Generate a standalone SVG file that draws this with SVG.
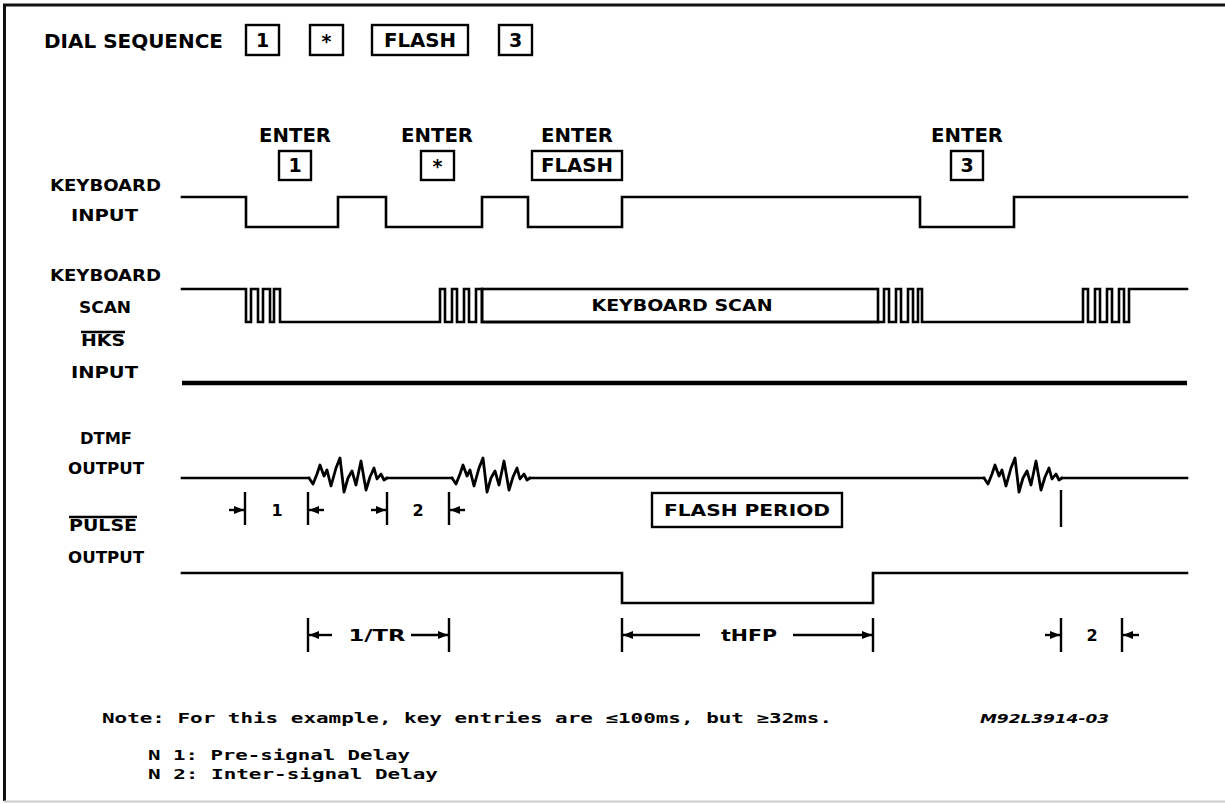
<svg xmlns="http://www.w3.org/2000/svg" width="1225" height="804" viewBox="0 0 1225 804">
<style>
.bg{fill:#fff}
.frame{stroke:#111;stroke-width:3;fill:none}
.frame2{stroke:#ccc;stroke-width:2;fill:none}
.sig{stroke:#000;stroke-width:2.6;fill:none;stroke-linejoin:miter;stroke-linecap:square}
.wave{stroke:#000;stroke-width:2.8;fill:none;stroke-linejoin:round;stroke-linecap:round}
.thick{stroke:#000;stroke-width:4.5;fill:none}
.box{stroke:#000;stroke-width:2.4;fill:#fff}
.dim{stroke:#000;stroke-width:2.4;fill:none}
.lbl{font-family:'DejaVu Sans',sans-serif;font-weight:bold;font-size:16px;fill:#000}
.big{font-family:'DejaVu Sans',sans-serif;font-weight:bold;font-size:19px;fill:#000}
.mid{text-anchor:middle}
.note{font-family:'DejaVu Sans Mono',monospace;font-weight:bold;font-size:14px;fill:#000}
.code{font-family:'DejaVu Sans',sans-serif;font-weight:bold;font-style:italic;font-size:12px;fill:#000}
</style>
<defs>
<marker id="ah" viewBox="0 0 10 8" refX="10" refY="4" markerWidth="10" markerHeight="8" markerUnits="userSpaceOnUse" orient="auto">
<path d="M0,0 L10,4 L0,8 Z" fill="#000"/>
</marker>
<path id="burst" d="M0,0 L4,6 L8,-4 L11,-13 L15,-2 L18,-8 L22,8 L27,-10 L31,-20 L35,14 L39,0 L43,-7 L47,7 L52,-17 L57,12 L61,-1 L65,-10 L68,1 L72,-4 L75,2 L78,0"/>
</defs>
<rect class="bg" x="0" y="0" width="1225" height="804"/>
<g id="frame">
<path class="frame" d="M4.5,801 V5 H1225"/>
<path class="frame2" d="M4,801.5 H1225"/>
</g>

<g id="dial-sequence">
<text class="big" x="44" y="48" textLength="179" lengthAdjust="spacingAndGlyphs">DIAL SEQUENCE</text>
<rect class="box" x="246" y="25" width="33" height="30"/>
<text class="big mid" x="262.5" y="47">1</text>
<rect class="box" x="310" y="25" width="33" height="30"/>
<text class="big mid" x="326.5" y="48">*</text>
<rect class="box" x="372" y="25" width="96" height="30"/>
<text class="big" x="384" y="47" textLength="72" lengthAdjust="spacingAndGlyphs">FLASH</text>
<rect class="box" x="499" y="25" width="33" height="30"/>
<text class="big mid" x="515.5" y="47">3</text>
</g>

<g id="labels">
<text class="lbl" x="50" y="191" textLength="111" lengthAdjust="spacingAndGlyphs">KEYBOARD</text>
<text class="lbl" x="71" y="221" textLength="67" lengthAdjust="spacingAndGlyphs">INPUT</text>
<text class="lbl" x="50" y="281" textLength="111" lengthAdjust="spacingAndGlyphs">KEYBOARD</text>
<text class="lbl" x="79" y="313" textLength="52" lengthAdjust="spacingAndGlyphs">SCAN</text>
<text class="lbl" x="81" y="346" textLength="44" lengthAdjust="spacingAndGlyphs">HKS</text>
<line class="dim" x1="81" y1="332" x2="125" y2="332" stroke-width="2"/>
<text class="lbl" x="71" y="378" textLength="67" lengthAdjust="spacingAndGlyphs">INPUT</text>
<text class="lbl" x="80" y="444" textLength="52" lengthAdjust="spacingAndGlyphs">DTMF</text>
<text class="lbl" x="68" y="474" textLength="76" lengthAdjust="spacingAndGlyphs">OUTPUT</text>
<text class="lbl" x="69" y="531" textLength="68" lengthAdjust="spacingAndGlyphs">PULSE</text>
<line class="dim" x1="69" y1="517" x2="137" y2="517" stroke-width="2"/>
<text class="lbl" x="68" y="563" textLength="76" lengthAdjust="spacingAndGlyphs">OUTPUT</text>
</g>

<g id="enter-keys">
<text class="big mid" x="295" y="142" textLength="72" lengthAdjust="spacingAndGlyphs">ENTER</text>
<rect class="box" x="279" y="151" width="32" height="29"/>
<text class="big mid" x="295" y="172">1</text>
<text class="big mid" x="437" y="142" textLength="72" lengthAdjust="spacingAndGlyphs">ENTER</text>
<rect class="box" x="421" y="151" width="33" height="29"/>
<text class="big mid" x="437.5" y="173">*</text>
<text class="big mid" x="577" y="142" textLength="72" lengthAdjust="spacingAndGlyphs">ENTER</text>
<rect class="box" x="532" y="151" width="90" height="29"/>
<text class="big mid" x="577" y="172" textLength="72" lengthAdjust="spacingAndGlyphs">FLASH</text>
<text class="big mid" x="967" y="142" textLength="72" lengthAdjust="spacingAndGlyphs">ENTER</text>
<rect class="box" x="951" y="151" width="32" height="29"/>
<text class="big mid" x="967" y="172">3</text>
</g>

<g id="connectors">
<path id="kb-input" class="sig" d="M182,197 H246 V227 H338 V197 H386 V227 H482 V197 H528 V227 H622 V197 H920 V227 H1014 V197 H1187"/>
<path id="kb-scan" class="sig" d="M182,289 H246 V322 H251 V289 H258 V322 H263 V289 H270 V322 H274 V289 H280 V322 H440 V289 H445 V322 H452 V289 H457 V322 H464 V289 H469 V322 H476 V289 H482 V322 H878 M878,322 H884 V289 H889 V322 H896 V289 H901 V322 H908 V289 H913 V322 H918 V289 H922 V322 H1083 V289 H1088 V322 H1095 V289 H1100 V322 H1107 V289 H1112 V322 H1119 V289 H1124 V322 H1129 V289 H1187"/>
<rect class="sig" x="482" y="289" width="396" height="33"/>
<path id="hks" class="thick" d="M182,383 H1187"/>
<path id="dtmf" class="sig" d="M182,478 H309 M387,478 H452 M530,478 H984 M1062,478 H1187"/>
<use href="#burst" class="wave" x="309" y="478"/>
<use href="#burst" class="wave" x="452" y="478"/>
<use href="#burst" class="wave" x="984" y="478"/>
<path id="pulse" class="sig" d="M182,573 H622 V603 H873 V573 H1187"/>
</g>

<g id="scan-label">
<text class="lbl mid" x="682" y="311" textLength="181" lengthAdjust="spacingAndGlyphs">KEYBOARD SCAN</text>
</g>

<g id="dims-dtmf">
<path class="dim" d="M245,492 V525 M308,492 V525 M387,492 V525 M449,492 V525 M1061,490 V527"/>
<line class="dim" x1="229" y1="510" x2="244" y2="510" marker-end="url(#ah)"/>
<line class="dim" x1="324" y1="510" x2="309" y2="510" marker-end="url(#ah)"/>
<line class="dim" x1="371" y1="510" x2="386" y2="510" marker-end="url(#ah)"/>
<line class="dim" x1="465" y1="510" x2="450" y2="510" marker-end="url(#ah)"/>
<text class="lbl mid" x="277" y="516">1</text>
<text class="lbl mid" x="418" y="516">2</text>
</g>

<g id="flash-period">
<rect class="box" x="652" y="493" width="190" height="34"/>
<text class="lbl mid" x="747" y="516" textLength="166" lengthAdjust="spacingAndGlyphs">FLASH PERIOD</text>
</g>

<g id="dims-bottom">
<path class="dim" d="M308,618 V652 M449,618 V652 M622,618 V652 M873,618 V652 M1061,618 V652 M1122,618 V652"/>
<line class="dim" x1="332" y1="635" x2="309" y2="635" marker-end="url(#ah)"/>
<line class="dim" x1="411" y1="635" x2="448" y2="635" marker-end="url(#ah)"/>
<text class="lbl mid" x="377" y="641" textLength="57" lengthAdjust="spacingAndGlyphs">1/TR</text>
<line class="dim" x1="700" y1="635" x2="623" y2="635" marker-end="url(#ah)"/>
<line class="dim" x1="793" y1="635" x2="872" y2="635" marker-end="url(#ah)"/>
<text class="lbl mid" x="749" y="641" textLength="56" lengthAdjust="spacingAndGlyphs">tHFP</text>
<line class="dim" x1="1045" y1="635" x2="1060" y2="635" marker-end="url(#ah)"/>
<line class="dim" x1="1139" y1="635" x2="1123" y2="635" marker-end="url(#ah)"/>
<text class="lbl mid" x="1092" y="641">2</text>
</g>

<g id="notes">
<text class="note" x="102" y="723" textLength="730" lengthAdjust="spacingAndGlyphs">Note: For this example, key entries are ≤100ms, but ≥32ms.</text>
<text class="code" x="980" y="723" textLength="129" lengthAdjust="spacingAndGlyphs">M92L3914-03</text>
<text class="note" x="148" y="760" textLength="262" lengthAdjust="spacingAndGlyphs">N 1: Pre-signal Delay</text>
<text class="note" x="148" y="779" textLength="290" lengthAdjust="spacingAndGlyphs">N 2: Inter-signal Delay</text>
</g>
</svg>
